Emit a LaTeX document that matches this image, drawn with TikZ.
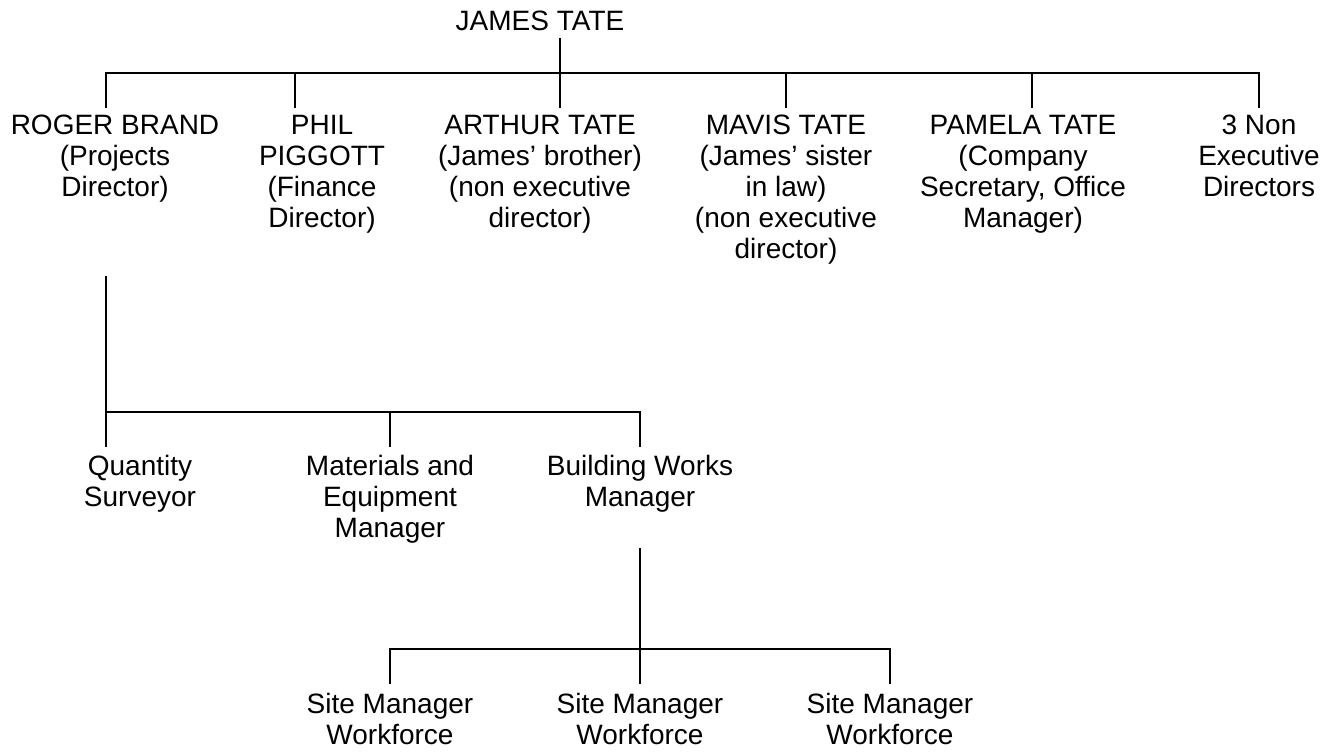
\documentclass[tikz,border=0pt]{standalone}
\usepackage{fontspec}
\setmainfont{Liberation Sans}
\usepackage{tikz}
\usetikzlibrary{positioning}

\begin{document}
\begin{tikzpicture}[
    x=0.5pt, y=-0.5pt,
    person/.style={align=center, inner sep=0pt, anchor=north, font=\fontsize{14pt}{15.5pt}\selectfont},
    edge/.style={line width=1pt}
  ]
  \useasboundingbox (0,0) rectangle (1329,751);

  % People
  \node[person] (jt) at (540,11)   {JAMES TATE};
  \node[person] (rb) at (115,115)  {ROGER BRAND\\(Projects\\Director)};
  \node[person] (pp) at (322,115)  {PHIL\\PIGGOTT\\(Finance\\Director)};
  \node[person] (at) at (540,115)  {ARTHUR TATE\\(James’ brother)\\(non executive\\director)};
  \node[person] (mt) at (786,115)  {MAVIS TATE\\(James’ sister\\in law)\\(non executive\\director)};
  \node[person] (pt) at (1023,115) {PAMELA TATE\\(Company\\Secretary, Office\\Manager)};
  \node[person] (ne) at (1259,115) {3 Non\\Executive\\Directors};
  \node[person] (qs) at (140,455)  {Quantity\\Surveyor};
  \node[person] (me) at (390,455)  {Materials and\\Equipment\\Manager};
  \node[person] (bw) at (640,455)  {Building Works\\Manager};
  \node[person] (sm1) at (390,693) {Site Manager\\Workforce};
  \node[person] (sm2) at (640,693) {Site Manager\\Workforce};
  \node[person] (sm3) at (890,693) {Site Manager\\Workforce};

  % Line ends
  \coordinate (jtFoot) at (560,38);
  \coordinate (jtBus)  at (560,73);
  \coordinate (rbIn)   at (106,108);
  \coordinate (ppIn)   at (295,108);
  \coordinate (atIn)   at (560,108);
  \coordinate (mtIn)   at (786,108);
  \coordinate (ptIn)   at (1032,108);
  \coordinate (neIn)   at (1259,108);
  \coordinate (rbFoot) at (106,276);
  \coordinate (rbBus)  at (106,412);
  \coordinate (qsIn)   at (106,447);
  \coordinate (meIn)   at (390,447);
  \coordinate (bwIn)   at (640,447);
  \coordinate (bwFoot) at (640,548);
  \coordinate (bwBus)  at (640,649);
  \coordinate (sm1In)  at (390,684);
  \coordinate (sm2In)  at (640,684);
  \coordinate (sm3In)  at (890,684);

  % Board
  \draw[edge] (jtFoot) -- (atIn);
  \draw[edge] (rbIn) -- (rbIn |- jtBus) -- (neIn |- jtBus) -- (neIn);
  \draw[edge] (ppIn |- jtBus) -- (ppIn);
  \draw[edge] (mtIn |- jtBus) -- (mtIn);
  \draw[edge] (ptIn |- jtBus) -- (ptIn);

  % Projects
  \draw[edge] (rbFoot) -- (qsIn);
  \draw[edge] (rbBus) -- (rbBus -| bwIn) -- (bwIn);
  \draw[edge] (meIn |- rbBus) -- (meIn);

  % Sites
  \draw[edge] (bwFoot) -- (sm2In);
  \draw[edge] (sm1In) -- (sm1In |- bwBus) -- (sm3In |- bwBus) -- (sm3In);
\end{tikzpicture}
\end{document}
